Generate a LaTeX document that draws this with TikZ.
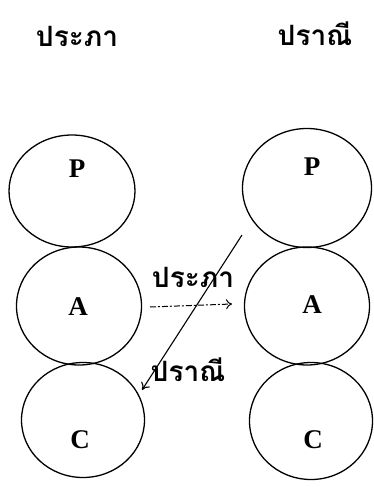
\documentclass[tikz,border=0pt]{standalone}
\usepackage{fontspec}
\newfontfamily\thaifont[Script=Thai]{Loma}
\newfontfamily\latinfont{Liberation Serif}
\usetikzlibrary{shapes.geometric,arrows.meta}
\begin{document}
\begin{tikzpicture}[x=1pt,y=-1pt,
  ball/.style={ellipse,draw,line width=1.3pt,inner sep=0pt},
  letter/.style={font=\latinfont\fontsize{27}{30}\selectfont\bfseries},
  thai/.style={font=\thaifont\fontsize{28}{32}\selectfont\bfseries,inner sep=0pt}]
\useasboundingbox (0,0) rectangle (373,487);
\node[ball,minimum width=126pt,minimum height=112pt] (lp) at (72,191) {};
\node[ball,minimum width=125pt,minimum height=118pt] (la) at (79,306) {};
\node[ball,minimum width=123pt,minimum height=115pt] (lc) at (83,420) {};
\node[ball,minimum width=129pt,minimum height=119pt] (rp) at (307,188) {};
\node[ball,minimum width=125pt,minimum height=118pt] (ra) at (307,306) {};
\node[ball,minimum width=123pt,minimum height=117pt] (rc) at (311,421) {};
\node[letter] (tlp) at (77,169) {P};
\node[letter] (tla) at (78,307) {A};
\node[letter] (tlc) at (80,440) {C};
\node[letter] (trp) at (312,167) {P};
\node[letter] (tra) at (312,305) {A};
\node[letter] (trc) at (313,440) {C};
\node[thai] (h1) at (77,36) {ประภา};
\node[thai] (h2) at (315,34) {ปราณี};
\node[thai] (m1) at (193,277) {ประภา};
\node[thai] (m2) at (188,370) {ปราณี};
\coordinate (a1) at (150,307);
\coordinate (a2) at (232,304);
\draw[line width=1pt,dash pattern=on 6pt off 2pt on 2pt off 2pt,-{To[length=6pt,width=10pt]}] (a1) -- (a2);
\coordinate (d1) at (242,235);
\coordinate (d2) at (142,390);
\draw[line width=1.1pt,-{To[length=7pt,width=10pt]}] (d1) -- (d2);
\end{tikzpicture}
\end{document}
